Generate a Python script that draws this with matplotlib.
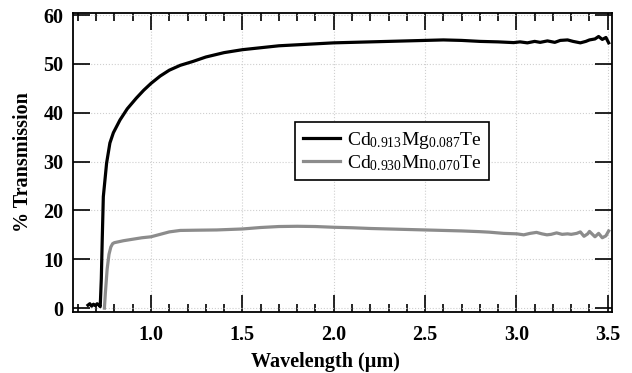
import matplotlib
matplotlib.use("Agg")
import matplotlib.pyplot as plt
from matplotlib.ticker import MultipleLocator, FixedLocator

plt.rcParams['font.family'] = ['Liberation Serif', 'DejaVu Serif']
plt.rcParams['mathtext.fontset'] = 'custom'
plt.rcParams['mathtext.rm'] = 'Liberation Serif'
plt.rcParams['mathtext.it'] = 'Liberation Serif:italic'
plt.rcParams['mathtext.bf'] = 'Liberation Serif:bold'

# CdMgTe (black)
wl_mg = [0.655, 0.665, 0.675, 0.685, 0.695, 0.705, 0.715, 0.722, 0.728, 0.733, 0.739,
         0.757, 0.775, 0.794, 0.83, 0.87, 0.92, 0.96, 1.00, 1.05, 1.10, 1.16, 1.23,
         1.30, 1.40, 1.50, 1.60, 1.70, 1.80, 1.90, 2.00, 2.10, 2.20, 2.30, 2.40, 2.50,
         2.60, 2.70, 2.80, 2.90, 2.985, 3.02, 3.06, 3.10, 3.13, 3.17, 3.21, 3.24,
         3.28, 3.31, 3.35, 3.38, 3.40, 3.43, 3.45, 3.47, 3.49, 3.505]
tr_mg = [0.6, 0.9, 0.4, 0.8, 0.5, 0.9, 0.6, 0.3, 6.0, 14.0, 22.8,
         29.7, 33.8, 35.9, 38.5, 40.8, 43.0, 44.6, 46.0, 47.5, 48.7, 49.7, 50.5,
         51.4, 52.3, 52.9, 53.3, 53.7, 53.9, 54.1, 54.3, 54.4, 54.5, 54.6, 54.7, 54.8,
         54.9, 54.8, 54.6, 54.5, 54.35, 54.5, 54.3, 54.6, 54.4, 54.7, 54.4, 54.8,
         54.9, 54.6, 54.3, 54.6, 54.9, 55.1, 55.6, 55.0, 55.4, 54.3]

# CdMnTe (gray)
wl_mn = [0.745, 0.75, 0.76, 0.77, 0.78, 0.79, 0.80, 0.85, 0.90, 0.95, 1.00, 1.05,
         1.10, 1.16, 1.25, 1.36, 1.50, 1.60, 1.70, 1.80, 1.90, 2.00, 2.10, 2.20,
         2.30, 2.40, 2.50, 2.60, 2.70, 2.80, 2.85, 2.93, 3.003, 3.04, 3.075, 3.11,
         3.14, 3.167, 3.19, 3.22, 3.25, 3.28, 3.30, 3.33, 3.35, 3.37, 3.39, 3.40,
         3.43, 3.45, 3.47, 3.49, 3.505]
tr_mn = [0.0, 3.0, 8.0, 11.0, 12.5, 13.2, 13.4, 13.8, 14.1, 14.4, 14.6, 15.1,
         15.6, 15.9, 15.95, 16.0, 16.2, 16.5, 16.7, 16.75, 16.7, 16.55, 16.45, 16.3,
         16.2, 16.1, 16.0, 15.9, 15.8, 15.65, 15.55, 15.3, 15.2, 15.0, 15.3, 15.5,
         15.2, 15.0, 15.1, 15.4, 15.1, 15.2, 15.1, 15.3, 15.6, 14.7, 15.2, 15.7,
         14.6, 15.3, 14.4, 14.8, 15.8]

labels = [r'Cd$_{0.913}$Mg$_{0.087}$Te', r'Cd$_{0.930}$Mn$_{0.070}$Te']
x_ticks = [1.0, 1.5, 2.0, 2.5, 3.0, 3.5]
x_ticklabels = ['1.0', '1.5', '2.0', '2.5', '3.0', '3.5']
y_ticks = [0, 10, 20, 30, 40, 50, 60]

fig = plt.figure(figsize=(6.32, 3.73), dpi=100)
ax = fig.add_axes([0.1155, 0.1635, 0.8525, 0.8015])

ax.plot(wl_mg, tr_mg, color='black', lw=2.3, label=labels[0], zorder=3)
ax.plot(wl_mn, tr_mn, color='#8c8c8c', lw=2.3, label=labels[1], zorder=2)

ax.set_xlim(0.573, 3.522)
ax.set_ylim(-0.8, 60.4)
ax.xaxis.set_major_locator(FixedLocator(x_ticks))
ax.set_xticklabels(x_ticklabels)
ax.xaxis.set_minor_locator(MultipleLocator(0.1))
ax.yaxis.set_major_locator(FixedLocator(y_ticks))

ax.grid(True, which='major', linestyle=':', color='#cfcfcf', lw=0.8)
ax.set_axisbelow(True)

ax.tick_params(which='both', direction='in', top=True, right=True, width=1.2, color='black')
ax.tick_params(which='major', length=12, labelsize=14.5, pad=7)
ax.tick_params(axis='x', which='major', pad=9)
ax.tick_params(which='minor', length=6)
for lab in ax.get_xticklabels() + ax.get_yticklabels():
    lab.set_fontweight('bold')
for s in ax.spines.values():
    s.set_linewidth(1.3)

ax.set_xlabel('Wavelength (µm)', fontsize=14.5, fontweight='bold')
ax.xaxis.set_label_coords(0.469, -0.135)
ax.set_ylabel('% Transmission', fontsize=14.5, fontweight='bold')
ax.yaxis.set_label_coords(-0.075, 0.5)

leg = ax.legend(loc='upper left', bbox_to_anchor=(0.412, 0.635), borderaxespad=0,
                fontsize=14, frameon=True, fancybox=False, handlelength=1.9,
                handletextpad=0.35, borderpad=0.4, labelspacing=0.1)
leg.get_frame().set_edgecolor('black')
leg.get_frame().set_linewidth(1.2)
leg.get_frame().set_alpha(1)

fig.savefig('out.png', dpi=100)
